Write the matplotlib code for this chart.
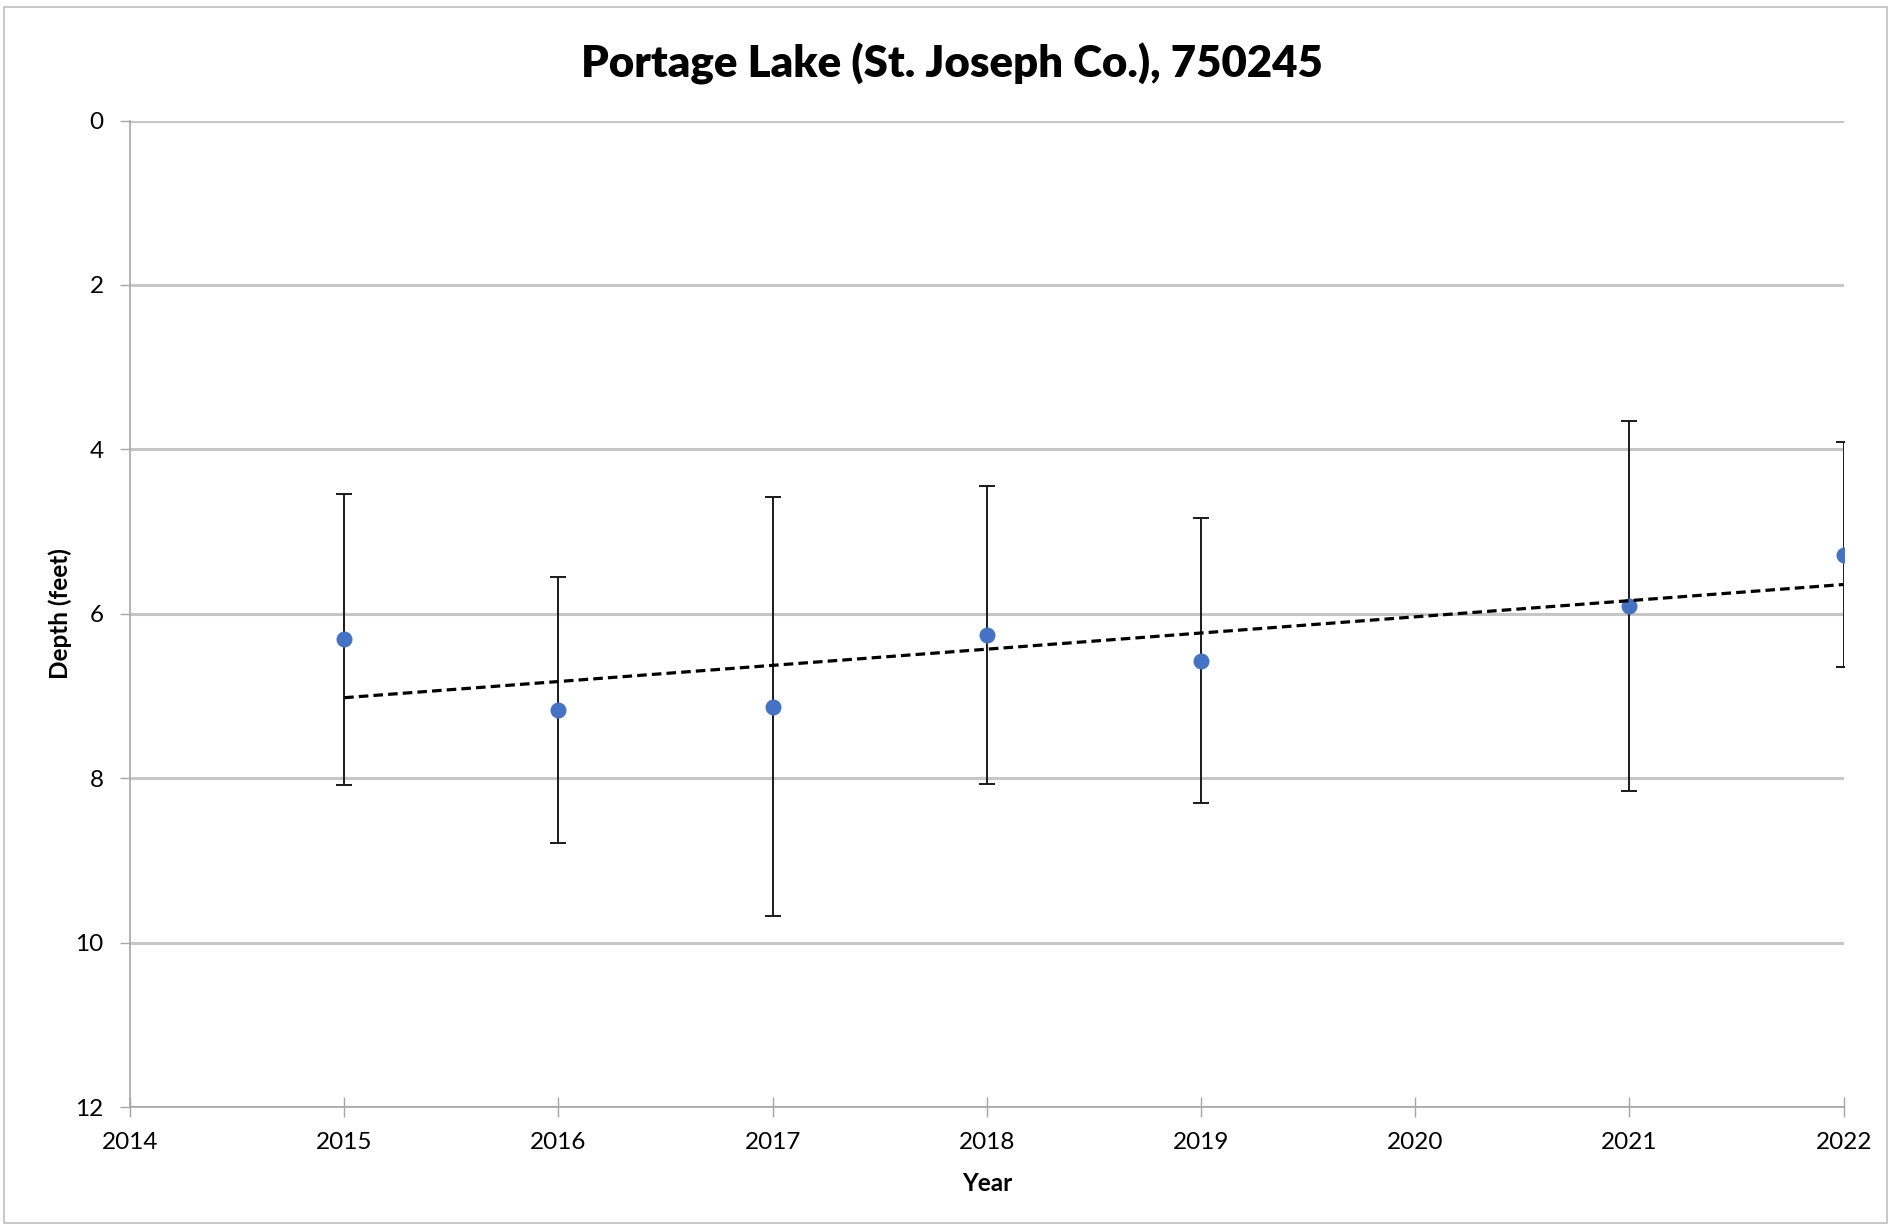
import matplotlib.pyplot as plt
import numpy as np
from matplotlib.patches import Rectangle

# Mean depth per year with one standard deviation
years = [2015, 2016, 2017, 2018, 2019, 2021, 2022]
depth = [6.31, 7.17, 7.13, 6.26, 6.57, 5.90, 5.28]
depth_sd = [1.77, 1.62, 2.55, 1.81, 1.73, 2.25, 1.37]

x_ticks = [2014, 2015, 2016, 2017, 2018, 2019, 2020, 2021, 2022]
y_ticks = [0, 2, 4, 6, 8, 10, 12]

plt.rcParams['font.family'] = ['Lato', 'DejaVu Sans']

fig = plt.figure(figsize=(18.91, 12.25), dpi=100)
ax = fig.add_axes([0.0687, 0.0963, 0.9063, 0.8053])

# Chart border
fig.patches.append(Rectangle((0.002, 0.002), 0.996, 0.992, transform=fig.transFigure,
                             fill=False, edgecolor='#bfbfbf', lw=1.2))

ax.set_axisbelow(True)
ax.grid(axis='y', color='#c6c6c6', lw=2.2)

ax.errorbar(years, depth, yerr=depth_sd, fmt='o', color='#4472C4', ms=10.5,
            ecolor='#1a1a1a', elinewidth=1.4, capsize=6, capthick=1.4, zorder=3)

# Linear trendline
slope, intercept = np.polyfit(years, depth, 1)
tx = np.array([min(years), max(years)])
ax.plot(tx, slope * tx + intercept, color='black', lw=2.3, ls=(0, (3, 1.6)), zorder=4)

ax.set_xlim(2014, 2022)
ax.set_ylim(12, 0)
ax.set_xticks(x_ticks)
ax.set_yticks(y_ticks)
ax.tick_params(axis='x', direction='inout', length=14, width=1, color='#a6a6a6',
               labelsize=17.5, pad=11)
ax.tick_params(axis='y', direction='out', length=7, width=1, color='#a6a6a6',
               labelsize=17.5, pad=12)

for side in ['top', 'right']:
    ax.spines[side].set_visible(False)
for side in ['left', 'bottom']:
    ax.spines[side].set_color('#a6a6a6')
    ax.spines[side].set_linewidth(1.2)

ax.set_xlabel('Year', fontsize=17.5, fontweight='bold', labelpad=14)
ax.set_ylabel('Depth (feet)', fontsize=17.5, fontweight='bold', labelpad=2)
fig.text(0.5035, 0.948, 'Portage Lake (St. Joseph Co.), 750245', ha='center', va='center',
         fontsize=31.5, fontweight='heavy')

fig.savefig('out.png', dpi=100)
